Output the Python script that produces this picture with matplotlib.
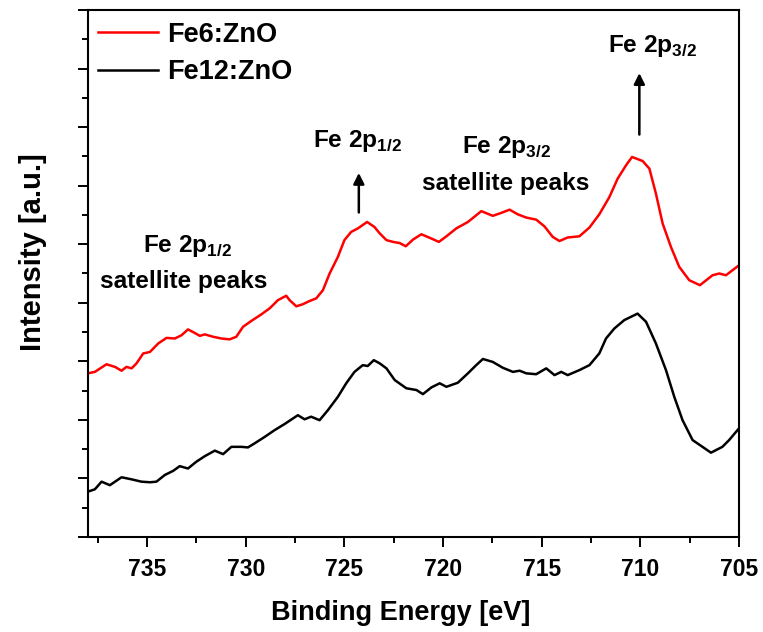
import matplotlib
matplotlib.use('Agg')
import matplotlib.pyplot as plt
from matplotlib.ticker import MultipleLocator, NullFormatter

plt.rcParams['font.family'] = ['Liberation Sans', 'DejaVu Sans']
plt.rcParams['font.weight'] = 'bold'
plt.rcParams['mathtext.fontset'] = 'custom'
plt.rcParams['mathtext.bf'] = 'Liberation Sans:bold'
plt.rcParams['mathtext.rm'] = 'Liberation Sans:bold'

# Fe6:ZnO (red), binding energy in eV and intensity in a.u.
fe6_energy = [738.0, 737.65, 737.06, 736.63, 736.30, 736.05, 735.79, 735.54, 735.20, 734.86,
              734.44, 734.02, 733.60, 733.26, 732.93, 732.59, 732.33, 732.08, 731.66, 731.24,
              730.82, 730.48, 730.14, 729.72, 729.22, 728.79, 728.37, 727.95, 727.78, 727.44,
              727.11, 726.77, 726.43, 726.09, 725.75, 725.33, 725.00, 724.66, 724.32, 723.85,
              723.48, 723.21, 722.87, 722.54, 722.20, 721.89, 721.52, 721.10, 720.68, 720.21,
              719.83, 719.33, 718.74, 718.06, 717.48, 717.05, 716.63, 716.21, 715.78, 715.28,
              714.86, 714.44, 714.10, 713.68, 713.09, 712.58, 712.08, 711.57, 711.15, 710.72,
              710.42, 709.88, 709.54, 709.21, 708.87, 708.45, 708.03, 707.52, 706.98, 706.34,
              706.00, 705.66, 705.0]
fe6_int = [5.59, 5.64, 5.90, 5.81, 5.68, 5.81, 5.76, 5.93, 6.27, 6.32,
           6.61, 6.80, 6.78, 6.89, 7.09, 6.97, 6.87, 6.92, 6.84, 6.78,
           6.75, 6.84, 7.18, 7.38, 7.60, 7.81, 8.09, 8.24, 8.09, 7.88,
           7.95, 8.06, 8.15, 8.43, 9.00, 9.57, 10.14, 10.42, 10.54, 10.76,
           10.59, 10.37, 10.14, 10.08, 10.04, 9.93, 10.16, 10.34, 10.22, 10.08,
           10.27, 10.54, 10.76, 11.13, 10.97, 11.07, 11.18, 11.02, 10.91, 10.84,
           10.61, 10.25, 10.11, 10.23, 10.27, 10.57, 11.02, 11.61, 12.24, 12.70,
           12.98, 12.84, 12.58, 11.73, 10.71, 9.91, 9.23, 8.77, 8.60, 8.94,
           9.00, 8.94, 9.28]

# Fe12:ZnO (black)
fe12_energy = [738.0, 737.65, 737.31, 736.89, 736.30, 735.79, 735.29, 734.86, 734.53, 734.10,
               733.68, 733.35, 732.93, 732.51, 732.08, 731.57, 731.15, 730.73, 730.23, 729.89,
               729.55, 729.04, 728.54, 728.03, 727.36, 727.02, 726.69, 726.26, 725.84, 725.33,
               724.91, 724.49, 724.07, 723.82, 723.51, 723.21, 722.87, 722.45, 721.86, 721.35,
               721.02, 720.59, 720.17, 719.83, 719.25, 718.74, 718.32, 717.98, 717.48, 716.97,
               716.46, 716.12, 715.78, 715.28, 714.77, 714.35, 714.01, 713.68, 713.09, 712.58,
               712.08, 711.74, 711.32, 710.81, 710.14, 709.71, 709.21, 708.70, 708.28, 707.86,
               707.35, 706.85, 706.42, 705.84, 705.50, 705.0]
fe12_int = [1.55, 1.63, 1.89, 1.77, 2.04, 1.97, 1.89, 1.87, 1.89, 2.12,
            2.26, 2.42, 2.34, 2.57, 2.76, 2.95, 2.83, 3.08, 3.08, 3.06,
            3.20, 3.42, 3.65, 3.86, 4.16, 4.02, 4.11, 3.99, 4.33, 4.79,
            5.25, 5.64, 5.87, 5.84, 6.04, 5.93, 5.76, 5.36, 5.08, 5.02,
            4.88, 5.11, 5.25, 5.13, 5.27, 5.59, 5.87, 6.08, 5.98, 5.78,
            5.64, 5.68, 5.59, 5.56, 5.76, 5.53, 5.64, 5.53, 5.70, 5.87,
            6.27, 6.78, 7.12, 7.41, 7.63, 7.35, 6.61, 5.70, 4.79, 3.99,
            3.31, 3.08, 2.88, 3.08, 3.31, 3.71]

fig = plt.figure(figsize=(7.63, 6.32), dpi=100)
ax = fig.add_axes([0.1153, 0.1503, 0.8532, 0.8339])

ax.plot(fe6_energy, fe6_int, color='#ff0000', linewidth=1.8, label='Fe6:ZnO')
ax.plot(fe12_energy, fe12_int, color='black', linewidth=1.8, label='Fe12:ZnO')

ax.set_xlim(738, 705)
ax.set_ylim(0, 18)

ax.xaxis.set_major_locator(MultipleLocator(5))
ax.xaxis.set_minor_locator(MultipleLocator(2.5))
ax.yaxis.set_major_locator(MultipleLocator(2))
ax.yaxis.set_minor_locator(MultipleLocator(1))
ax.yaxis.set_major_formatter(NullFormatter())
ax.tick_params(axis='both', which='major', direction='out', length=7, width=1.4,
               labelsize=16.5, pad=8)
ax.tick_params(axis='both', which='minor', direction='out', length=4, width=1.4)
for lab in ax.get_xticklabels():
    lab.set_fontweight('bold')
for s in ax.spines.values():
    s.set_linewidth(1.5)

ax.set_xlabel('Binding Energy [eV]', fontsize=19.5, fontweight='bold')
ax.xaxis.set_label_coords(0.48, -0.12)
ax.set_ylabel('Intensity [a.u.]', fontsize=21, fontweight='bold')
ax.yaxis.set_label_coords(-0.063, 0.54)

leg = ax.legend(loc='upper left', frameon=False, fontsize=19.5, handlelength=2.2,
                handletextpad=0.35, labelspacing=0.42, borderaxespad=0.1,
                bbox_to_anchor=(-0.005, 1.003))
for t in leg.get_texts():
    t.set_fontweight('bold')

fs = 17.6
ax.text(724.35, 13.31, r'Fe 2p$_\mathbf{1/2}$', fontsize=fs, fontweight='bold', ha='center')
ax.annotate('', xy=(724.27, 12.53), xytext=(724.27, 10.99),
            arrowprops=dict(arrowstyle='-|>', color='black', lw=1.8, mutation_scale=16))

ax.text(709.39, 16.55, r'Fe 2p$_\mathbf{3/2}$', fontsize=fs, fontweight='bold', ha='center')
ax.annotate('', xy=(710.05, 15.94), xytext=(710.05, 13.65),
            arrowprops=dict(arrowstyle='-|>', color='black', lw=1.8, mutation_scale=16))

ax.text(716.78, 13.11, r'Fe 2p$_\mathbf{3/2}$', fontsize=fs, fontweight='bold', ha='center')
ax.text(716.83, 11.84, 'satellite peaks', fontsize=fs, fontweight='bold', ha='center')

ax.text(732.95, 9.73, r'Fe 2p$_\mathbf{1/2}$', fontsize=fs, fontweight='bold', ha='center')
ax.text(733.15, 8.50, 'satellite peaks', fontsize=fs, fontweight='bold', ha='center')

fig.savefig('out.png', dpi=100)
